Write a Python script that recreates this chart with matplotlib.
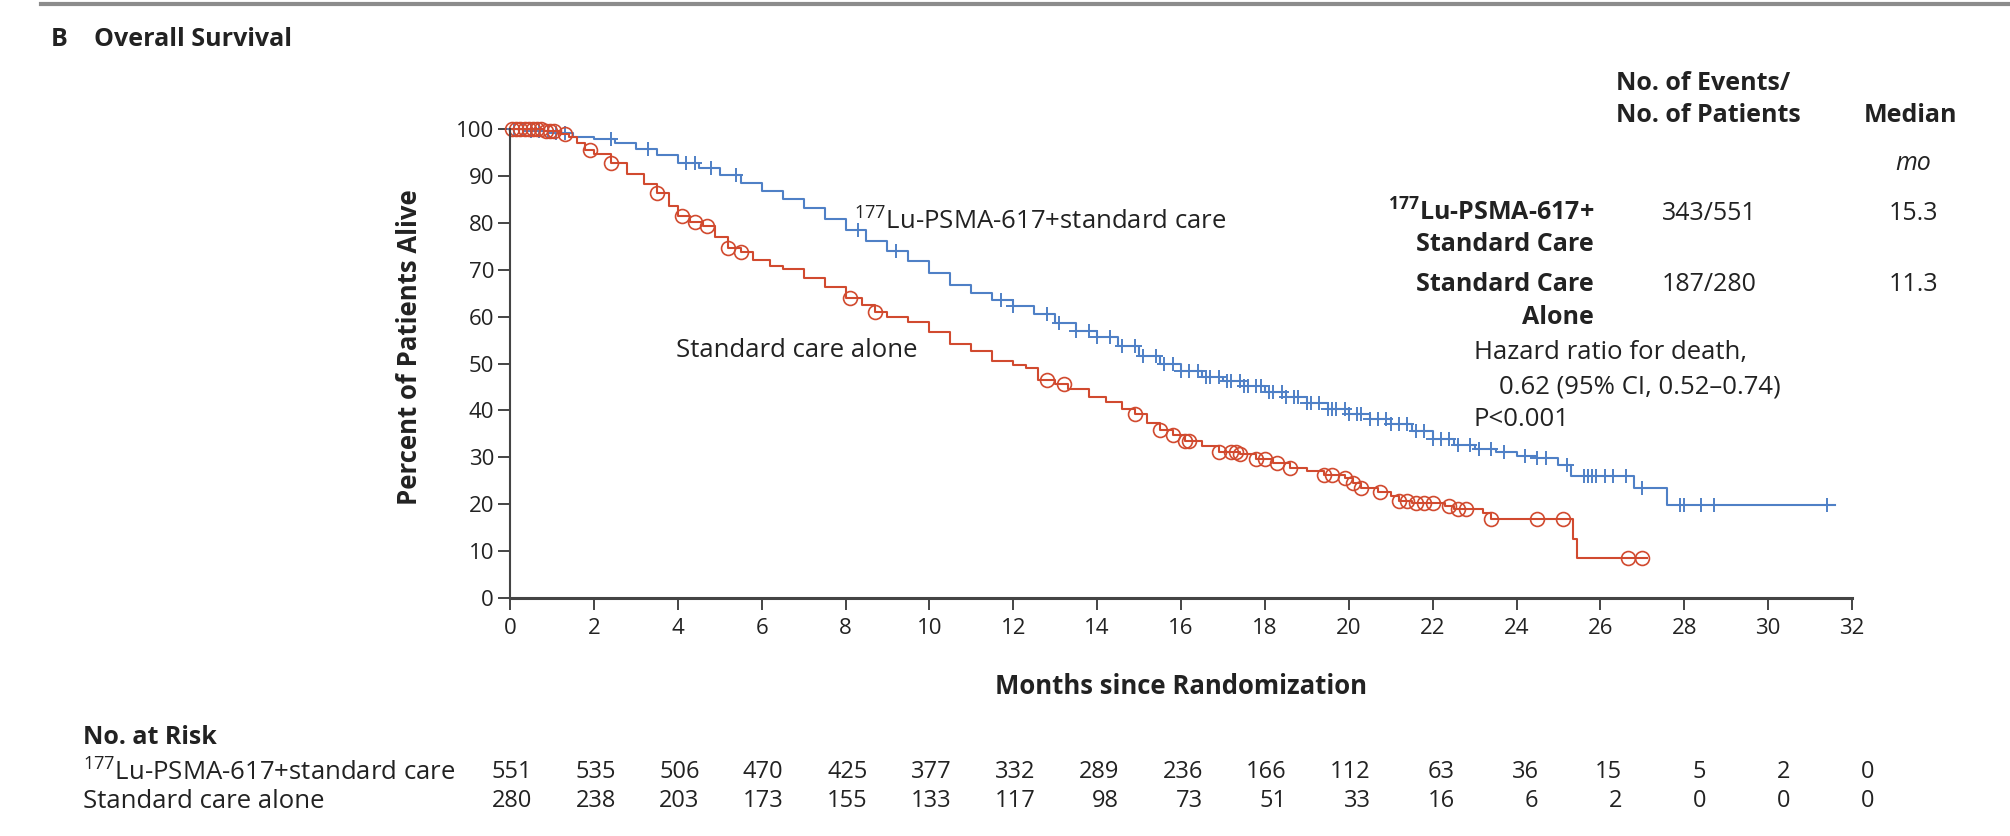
import numpy as np
import matplotlib
matplotlib.use("Agg")
import matplotlib.pyplot as plt
from matplotlib.lines import Line2D

W, H = 2010, 836

# Kaplan-Meier steps (months, percent alive)
lu_t = [0, 0.5, 1.0, 1.5, 2.0, 2.5, 3.0, 3.5, 4.0, 4.5, 5.0, 5.5, 6.0, 6.5, 7.0, 7.5, 8.0, 8.5,
        9.0, 9.5, 10.0, 10.5, 11.0, 11.5, 12.0, 12.5, 13.0, 13.5, 14.0, 14.5, 15.0, 15.5, 16.0,
        16.5, 17.0, 17.5, 18.0, 18.5, 19.0, 19.5, 20.0, 20.5, 21.0, 21.5, 22.0, 22.5, 23.0, 23.5,
        24.0, 24.5, 25.0, 25.3, 26.8, 27.6, 31.6]
lu_s = [100, 99.6, 99.2, 98.4, 97.8, 97.0, 95.8, 94.5, 92.8, 91.6, 90.2, 88.4, 86.8, 85.0, 83.2,
        80.8, 78.4, 76.2, 74.0, 71.8, 69.2, 66.8, 65.0, 63.6, 62.2, 60.6, 58.6, 57.0, 55.6, 53.8,
        51.6, 49.8, 48.4, 47.2, 46.2, 45.2, 44.0, 42.8, 41.6, 40.4, 39.2, 38.2, 37.0, 35.6, 34.0,
        32.6, 31.8, 31.2, 30.2, 29.9, 28.4, 26.0, 23.5, 19.8, 19.8]

sc_t = [0, 0.8, 1.2, 1.4, 1.6, 1.8, 2.0, 2.4, 2.8, 3.2, 3.5, 3.8, 4.0, 4.3, 4.6, 4.9, 5.2, 5.5,
        5.8, 6.2, 6.5, 7.0, 7.5, 8.0, 8.4, 8.7, 9.0, 9.5, 10.0, 10.5, 11.0, 11.5, 12.0, 12.3,
        12.6, 13.0, 13.3, 13.8, 14.2, 14.6, 14.9, 15.2, 15.5, 15.8, 16.1, 16.5, 16.9, 17.4, 17.8,
        18.2, 18.6, 19.0, 19.4, 19.9, 20.1, 20.3, 20.7, 21.0, 21.2, 21.5, 22.3, 22.5, 23.2, 23.4,
        25.35, 25.45, 27.1]
sc_s = [100, 99.6, 99.0, 98.2, 97.0, 95.5, 94.6, 92.8, 90.5, 88.2, 86.4, 83.5, 81.4, 80.2, 79.3,
        77.0, 74.6, 73.8, 72.0, 70.8, 70.2, 68.2, 66.4, 64.0, 62.5, 61.0, 60.0, 58.8, 56.8, 54.2,
        52.6, 50.6, 49.6, 49.0, 46.5, 45.6, 44.6, 42.8, 41.8, 40.2, 39.2, 37.4, 35.8, 34.8, 33.4,
        32.4, 31.2, 30.8, 29.6, 28.8, 27.8, 27.0, 26.2, 25.6, 24.6, 23.5, 22.6, 21.8, 20.6, 20.2,
        19.6, 19.0, 18.2, 16.8, 12.5, 8.5, 8.5]

# censoring marks (months)
lu_cens = [0.1, 0.3, 0.5, 0.7, 0.9, 1.1, 1.3, 2.4, 3.3, 4.2, 4.4, 4.8, 5.4, 8.3, 9.2, 11.7, 12.0,
           12.8, 13.1, 13.5, 13.8, 14.0, 14.3, 14.6, 14.9, 15.1, 15.4, 15.6, 15.8, 16.0, 16.2,
           16.4, 16.6, 16.7, 16.9, 17.1, 17.2, 17.4, 17.5, 17.6, 17.8, 17.9, 18.1, 18.2, 18.4,
           18.5, 18.7, 18.8, 19.0, 19.1, 19.3, 19.5, 19.6, 19.7, 19.9, 20.0, 20.2, 20.3, 20.5,
           20.7, 20.9, 21.0, 21.2, 21.4, 21.6, 21.8, 22.0, 22.2, 22.4, 22.6, 22.9, 23.1, 23.4,
           23.7, 24.2, 24.5, 24.7, 25.2, 25.6, 25.7, 25.8, 25.9, 26.1, 26.3, 26.6, 27.0, 27.9,
           28.0, 28.4, 28.7, 31.4]
sc_cens = [0.05, 0.15, 0.25, 0.35, 0.45, 0.55, 0.65, 0.75, 0.85, 0.95, 1.05, 1.3, 1.9, 2.4, 3.5,
           4.1, 4.4, 4.7, 5.2, 5.5, 8.1, 8.7, 12.8, 13.2, 14.9, 15.5, 15.8, 16.1, 16.2, 16.9,
           17.2, 17.3, 17.4, 17.8, 18.0, 18.3, 18.6, 19.4, 19.6, 19.9, 20.1, 20.3, 20.75, 21.2,
           21.4, 21.6, 21.8, 22.0, 22.4, 22.6, 22.8, 23.4, 24.5, 25.1, 26.65, 27.0]

month_ticks = list(range(0, 33, 2))
pct_ticks = list(range(0, 101, 10))
lu_risk = [551, 535, 506, 470, 425, 377, 332, 289, 236, 166, 112, 63, 36, 15, 5, 2, 0]
sc_risk = [280, 238, 203, 173, 155, 133, 117, 98, 73, 51, 33, 16, 6, 2, 0, 0, 0]

BLUE = '#4f80c6'
RED = '#d14a2f'
TXT = '#222222'

plt.rcParams['font.family'] = ['Open Sans', 'DejaVu Sans']
plt.rcParams['mathtext.fontset'] = 'custom'
plt.rcParams['mathtext.rm'] = 'Open Sans'
plt.rcParams['mathtext.bf'] = 'Open Sans:bold'


def km_at(t, s, x):
    idx = np.searchsorted(t, x, side='right') - 1
    return np.asarray(s)[idx]


def fx(px):
    return px / W


def fy(py):
    return 1 - py / H


fig = plt.figure(figsize=(W / 100, H / 100), dpi=100)
ax = fig.add_axes([fx(510), fy(598), (1852 - 510) / W, (598 - 129) / H])

ax.step(lu_t, lu_s, where='post', color=BLUE, lw=1.5, clip_on=False)
ax.plot(lu_cens, km_at(lu_t, lu_s, lu_cens), ls='none', marker='+', ms=10, mew=1.4,
        color=BLUE, clip_on=False)
ax.step(sc_t, sc_s, where='post', color=RED, lw=1.5, clip_on=False)
ax.plot(sc_cens, km_at(sc_t, sc_s, sc_cens), ls='none', marker='o', ms=10, mew=1.2,
        mfc='none', mec=RED, clip_on=False)

ax.set_xlim(0, 32)
ax.set_ylim(0, 100)
ax.set_xticks(month_ticks)
ax.set_yticks(pct_ticks)
for side in ['top', 'right']:
    ax.spines[side].set_visible(False)
ax.spines['left'].set_color('#444444')
ax.spines['left'].set_linewidth(1.5)
ax.spines['bottom'].set_color('#444444')
ax.spines['bottom'].set_linewidth(2.2)
ax.tick_params(length=8.5, width=1.4, color='#444444', labelsize=16, labelcolor=TXT)
ax.tick_params(axis='x', pad=6)
ax.tick_params(axis='y', pad=3)

ax.text(8.2, 80.5, r'$^{177}$Lu-PSMA-617+standard care', fontsize=18.5, color=TXT,
        va='center')
ax.text(3.95, 52.8, 'Standard care alone', fontsize=18.5, color=TXT, va='center')

fig.text(fx(409), fy(347), 'Percent of Patients Alive', rotation=90, fontsize=18.5,
         fontweight='bold', color=TXT, ha='center', va='center')
fig.text(fx(1181), fy(686), 'Months since Randomization', fontsize=18.5, fontweight='bold',
         color=TXT, ha='center', va='center')

# panel header and rule
fig.add_artist(Line2D([fx(41), 1], [fy(4), fy(4)], color='#8c8c8c', lw=3))
fig.text(fx(51), fy(40), 'B', fontsize=18, fontweight='bold', color=TXT, va='center')
fig.text(fx(94), fy(40), 'Overall Survival', fontsize=18, fontweight='bold', color=TXT,
         va='center')

# legend table
fig.text(fx(1616), fy(84), 'No. of Events/', fontsize=18, fontweight='bold', color=TXT,
         va='center')
fig.text(fx(1616), fy(116), 'No. of Patients', fontsize=18, fontweight='bold', color=TXT,
         va='center')
fig.text(fx(1864), fy(116), 'Median', fontsize=18, fontweight='bold', color=TXT, va='center')
fig.text(fx(1913), fy(164), 'mo', fontsize=18, style='italic', color=TXT, ha='center',
         va='center')
fig.text(fx(1594), fy(213), r'$^{\mathbf{177}}$Lu-PSMA-617+', fontsize=18, fontweight='bold',
         color=TXT, ha='right', va='center')
fig.text(fx(1594), fy(244), 'Standard Care', fontsize=18, fontweight='bold', color=TXT,
         ha='right', va='center')
fig.text(fx(1594), fy(285), 'Standard Care', fontsize=18, fontweight='bold', color=TXT,
         ha='right', va='center')
fig.text(fx(1594), fy(317), 'Alone', fontsize=18, fontweight='bold', color=TXT,
         ha='right', va='center')
fig.text(fx(1709), fy(213), '343/551', fontsize=18, color=TXT, ha='center', va='center')
fig.text(fx(1709), fy(285), '187/280', fontsize=18, color=TXT, ha='center', va='center')
fig.text(fx(1913), fy(213), '15.3', fontsize=18, color=TXT, ha='center', va='center')
fig.text(fx(1913), fy(285), '11.3', fontsize=18, color=TXT, ha='center', va='center')
fig.text(fx(1474), fy(352), 'Hazard ratio for death,', fontsize=18.5, color=TXT, va='center')
fig.text(fx(1499), fy(387), '0.62 (95% CI, 0.52\u20130.74)', fontsize=18.5, color=TXT,
         va='center')
fig.text(fx(1474), fy(420), 'P<0.001', fontsize=18.5, color=TXT, va='center')

# number at risk
fig.text(fx(83), fy(737), 'No. at Risk', fontsize=18, fontweight='bold', color=TXT,
         va='center')
fig.text(fx(83), fy(772), r'$^{177}$Lu-PSMA-617+standard care', fontsize=18.5, color=TXT,
         va='center')
fig.text(fx(83), fy(801), 'Standard care alone', fontsize=18.5, color=TXT, va='center')
for m, a, b in zip(month_ticks, lu_risk, sc_risk):
    ax.annotate(str(a), xy=(m, fy(772)), xycoords=('data', 'figure fraction'),
                xytext=(15.8, 0), textcoords='offset points', ha='right', va='center',
                fontsize=17, color=TXT, annotation_clip=False)
    ax.annotate(str(b), xy=(m, fy(801)), xycoords=('data', 'figure fraction'),
                xytext=(15.8, 0), textcoords='offset points', ha='right', va='center',
                fontsize=17, color=TXT, annotation_clip=False)

fig.savefig('out.png', dpi=100, facecolor='white')
